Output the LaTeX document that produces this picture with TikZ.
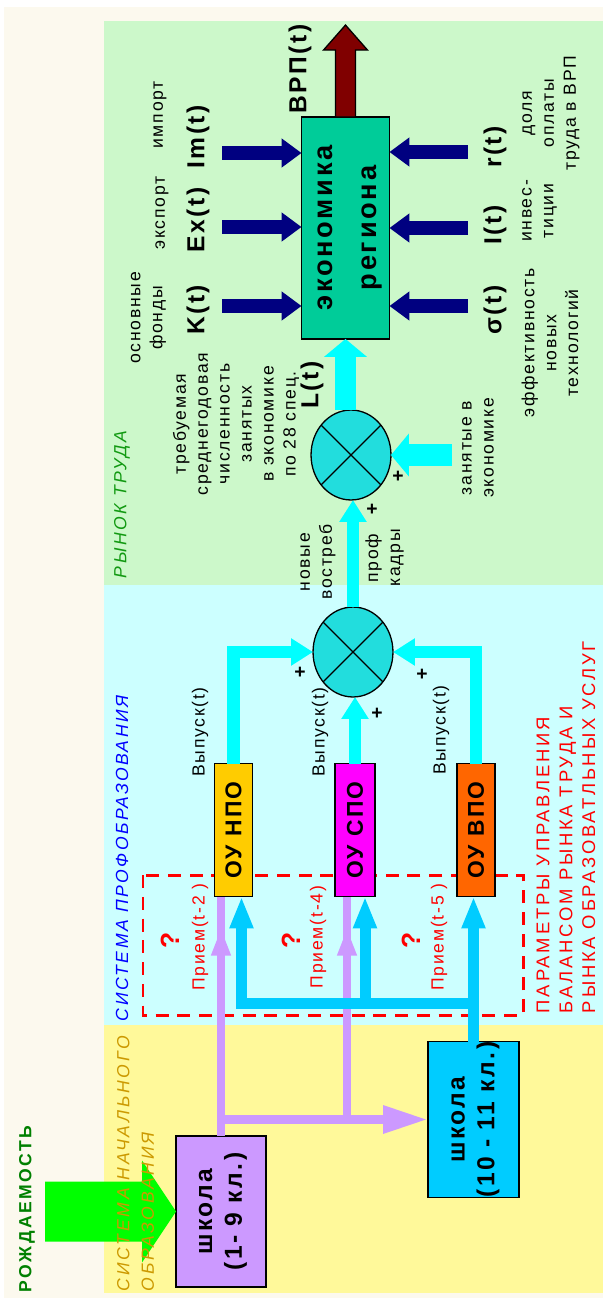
\documentclass[tikz,border=0pt]{standalone}
\usepackage{fontspec}
\setmainfont{Liberation Sans}[LetterSpace=10]
\usepackage{graphicx}
\usetikzlibrary{arrows.meta,calc,decorations.markings,shapes.geometric}
\definecolor{cream}{HTML}{FCF9EE}
\definecolor{greenbg}{HTML}{CCF8CA}
\definecolor{cyanbg}{HTML}{CCFFFF}
\definecolor{yellowbg}{HTML}{FFF99A}
\definecolor{lilac}{HTML}{CC99FF}
\definecolor{skyb}{HTML}{00CCFF}
\definecolor{npoc}{HTML}{FFCC00}
\definecolor{spoc}{HTML}{FF00FF}
\definecolor{vpoc}{HTML}{FF6600}
\definecolor{ecoc}{HTML}{00CC99}
\definecolor{sumc}{HTML}{22DDDD}
\definecolor{aqua}{HTML}{00FFFF}
\definecolor{navyc}{HTML}{000080}
\definecolor{maroonc}{HTML}{800000}
\definecolor{limec}{HTML}{00FF00}
\definecolor{redc}{HTML}{FF0000}
\definecolor{dgreen}{HTML}{008000}
\definecolor{goldc}{HTML}{CC9900}
\definecolor{mgreen}{HTML}{119911}
\definecolor{bluec}{HTML}{0000FF}
\begin{document}
\begin{tikzpicture}[x=0.02cm,y=-0.02cm,
  every node/.style={inner sep=0pt,outer sep=0pt},
  vtext/.style={rotate=90,font=\fontsize{10}{12.5}\selectfont,align=center},
  blab/.style={rotate=90,font=\fontsize{14}{16}\selectfont\bfseries},
  plus/.style={font=\fontsize{11}{12}\selectfont\bfseries},
  qmark/.style={rotate=90,text=redc,font=\fontsize{15}{16}\selectfont\bfseries},
  seclab/.style={rotate=90,anchor=west,align=left,font=\fontsize{10}{14}\selectfont\itshape\addfontfeature{LetterSpace=14}},
  ebox/.style={draw=black,line width=0.85pt},
  sumnode/.style={ellipse,draw=black,line width=0.74pt,fill=sumc,minimum width=45.5pt,minimum height=51.2pt},
  purpln/.style={draw=lilac,line width=5.1pt},
  purpmid/.style={postaction={decorate,decoration={markings,mark=at position #1 with {\arrow{Triangle[width=10.2pt,length=15.9pt]}}}}},
  blueln/.style={draw=skyb,line width=6.26pt,-{Triangle[width=12.5pt,length=18.2pt]}},
  cyanln/.style={draw=aqua,line width=7.1pt,-{Triangle[width=14.8pt,length=12.5pt]}},
  cyanthick/.style={draw=aqua,line width=12.5pt,-{Triangle[width=23.9pt,length=10.2pt]}},
  navyarr/.style={draw=navyc,line width=7.97pt,-{Triangle[width=15.9pt,length=11.4pt]}}
]
\useasboundingbox (0,0) rectangle (603,1298);
% backgrounds
\fill[white] (0,0) rectangle (603,1298);
\fill[cream] (4,7) rectangle (603,1298);
\fill[greenbg] (104,21) rectangle (603,585);
\fill[cyanbg] (104,585) rectangle (603,1025);
\fill[yellowbg] (104,1025) rectangle (603,1293);

% red dashed frame
\draw[redc,line width=1.7pt,dash pattern=on 7.4pt off 5pt] (143,875) rectangle (523,1015);

% boxes
\node[ebox,fill=lilac,minimum width=51.2pt,minimum height=85.9pt,font=\fontsize{14}{17}\selectfont\bfseries] (school1) at (221,1211.5)
  {\rotatebox{90}{\begin{tabular}{@{}c@{}}школа\\(1- 9 кл.)\end{tabular}}};
\node[ebox,fill=skyb,minimum width=51.8pt,minimum height=83.65pt,font=\fontsize{14}{17}\selectfont\bfseries] (school2) at (473.5,1119.5)
  {\rotatebox{90}{\begin{tabular}{@{}c@{}}школа\\(10 - 11 кл.)\end{tabular}}};
\node[ebox,fill=npoc,minimum width=21.6pt,minimum height=75.7pt,font=\fontsize{13}{15}\selectfont\bfseries] (npo) at (233.5,830)
  {\rotatebox{90}{ОУ НПО}};
\node[ebox,fill=spoc,minimum width=22.8pt,minimum height=75.7pt,font=\fontsize{13}{15}\selectfont\bfseries] (spo) at (355,830)
  {\rotatebox{90}{ОУ СПО}};
\node[ebox,fill=vpoc,minimum width=21.6pt,minimum height=75.7pt,font=\fontsize{13}{15}\selectfont\bfseries] (vpo) at (476,830)
  {\rotatebox{90}{ОУ ВПО}};
\node[sumnode] (c1) at (353,652) {};
\node[sumnode] (c2) at (351,455) {};
\draw[line width=0.74pt] (c1.45) -- (c1.225) (c1.135) -- (c1.315);
\draw[line width=0.74pt] (c2.45) -- (c2.225) (c2.135) -- (c2.315);

% green birth arrow
\fill[limec] (school1.west) -- ++(-34,-51) -- ++(0,21) -- ++(-97,0) -- ++(0,60) -- ++(97,0) -- ++(0,21) -- cycle;

% helper coordinates
\coordinate (sp) at ($(spo.south)+(-8,0)$);
\coordinate (sb) at ($(spo.south)+(10,0)$);
\coordinate (nb) at ($(npo.south)+(8,0)$);
\coordinate (bj) at (473.5,1003);

% purple flows
\draw[purpln,-{Triangle[width=14.8pt,length=25.6pt]}] (school1.north) |- (school2.west);
\draw[purpln,purpmid=0.87] (school1.north) -- (school1.north |- npo.south);
\draw[purpln,purpmid=0.86] (sp |- school2.west) -- (sp);

% blue flows
\draw[blueln] (school2.north) -- (school2.north |- vpo.south);
\draw[blueln] (bj) -| (nb);
\draw[blueln] (bj) -| (sb);

% cyan flows
\draw[cyanln] (npo.north) |- (c1.west);
\draw[cyanln] (spo.north) -- (spo.north |- c1.south);
\draw[cyanln] (vpo.north) |- (c1.east);
\draw[cyanln] (c1.north) -- (c1.north |- c2.south);

% economy box
\node[ebox,fill=ecoc,minimum width=48.4pt,minimum height=126.3pt,font=\fontsize{15.5}{25}\selectfont\bfseries] (eco) at (345.5,228)
  {\rotatebox{90}{\begin{tabular}{@{}c@{}}экономика\\региона\end{tabular}}};
\coordinate (zin) at (452,455);
\draw[cyanthick] (zin) -- (c2.east);
\draw[cyanthick] (eco.south |- c2.north) -- (eco.south);

% GRP output arrow
\filldraw[fill=maroonc,draw=black,line width=0.74pt]
  ($(eco.north)+(-10,0)$) -- ++(0,-67) -- ++(-12,0) -- ($(eco.north)+(0,-92)$) -- ($(eco.north)+(22,-67)$) -- ++(-12,0) -- ($(eco.north)+(10,0)$) -- cycle;

% navy inputs
\coordinate (kin) at (222,306);
\coordinate (exin) at (222,227);
\coordinate (imin) at (222,153);
\coordinate (sin) at (468,306);
\coordinate (iin) at (468,228);
\coordinate (rin) at (468,152);
\draw[navyarr] (kin) -- (kin -| eco.west);
\draw[navyarr] (exin) -- (exin -| eco.west);
\draw[navyarr] (imin) -- (imin -| eco.west);
\draw[navyarr] (sin) -- (sin -| eco.east);
\draw[navyarr] (iin) -- (iin -| eco.east);
\draw[navyarr] (rin) -- (rin -| eco.east);

% section labels
\node[rotate=90,anchor=west,text=dgreen,font=\fontsize{10}{12}\selectfont\bfseries\addfontfeature{LetterSpace=14}] (birth) at (27,1292) {РОЖДАЕМОСТЬ};
\node[seclab,text=goldc,font=\fontsize{10}{14}\selectfont\itshape\addfontfeature{LetterSpace=16}] (secA) at (135.5,1291) {СИСТЕМА НАЧАЛЬНОГО\\ОБРАЗОВАНИЯ};
\node[seclab,text=bluec] (secB) at (122,1021) {СИСТЕМА ПРОФОБРАЗОВАНИЯ};
\node[seclab,text=mgreen] (secC) at (122,578) {РЫНОК ТРУДА};

% bold variable labels
\node[blab] (vrp) at (300,69) {ВРП(t)};
\node[blab] (lt) at (312,385) {L(t)};
\node[blab] (kt) at (198,310) {K(t)};
\node[blab] (ext) at (198,220) {Ex(t)};
\node[blab] (imt) at (198,137) {Im(t)};
\node[blab] (st) at (495,310) {σ(t)};
\node[blab] (it) at (495,225) {I(t)};
\node[blab] (rt) at (495,147) {r(t)};

% small labels
\node[vtext] (osn) at (148.5,318) {основные\\фонды};
\node[vtext] (exl) at (162,213) {экспорт};
\node[vtext] (iml) at (160,115) {импорт};
\node[vtext] (treb) at (236,424) {требуемая\\среднегодовая\\численность\\занятых\\в экономике\\по 28 спец.};
\node[vtext] (nov) at (318,562) {новые\\востреб};
\node[vtext] (prof) at (384.5,558) {проф\\кадры};
\node[vtext] (zan) at (478,448) {занятые в\\экономике};
\node[vtext] (eff) at (550,343) {эффективность\\новых\\технологий};
\node[vtext] (inv) at (539.5,211) {инвес-\\тиции};
\node[vtext] (dol) at (551,113) {доля\\оплаты\\труда в ВРП};
\node[vtext] (out1) at (200,732) {Выпуск(t)};
\node[vtext] (out2) at (320,732) {Выпуск(t)};
\node[vtext] (out3) at (441,730) {Выпуск(t)};
\node[vtext,text=redc] (in1) at (200,937) {Прием(t-2 )};
\node[vtext,text=redc] (in2) at (318,937) {Прием(t-4)};
\node[vtext,text=redc] (in3) at (439,937) {Прием(t-5 )};
\node[qmark] (q1) at (170,940) {?};
\node[qmark] (q2) at (291,940) {?};
\node[qmark] (q3) at (411,940) {?};
\node[plus] (p1) at (300,673) {+};
\node[plus] (p2) at (422,675) {+};
\node[plus] (p3) at (377,714) {+};
\node[plus] (p4) at (372,510) {+};
\node[plus] (p5) at (398,477) {+};
\node[vtext,align=left,anchor=west,text=redc,font=\fontsize{10.5}{13}\selectfont\addfontfeature{LetterSpace=15}] (params) at (566,1013)
  {ПАРАМЕТРЫ УПРАВЛЕНИЯ\\БАЛАНСОМ РЫНКА ТРУДА И\\РЫНКА ОБРАЗОВАТЛЬНЫХ УСЛУГ};
\end{tikzpicture}
\end{document}
